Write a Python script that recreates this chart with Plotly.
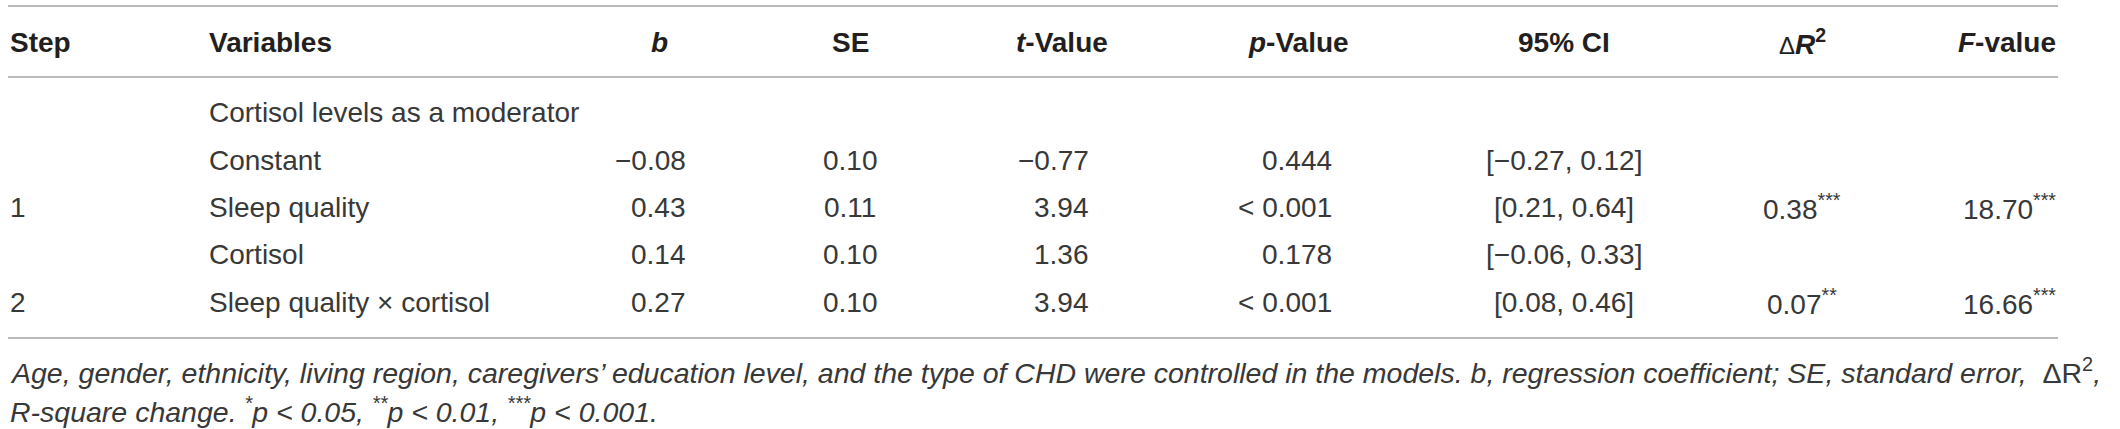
#!/usr/bin/env python3
"""Moderation table: cortisol levels as a moderator of sleep quality."""
import plotly.graph_objects as go

# ---- table data -------------------------------------------------------------
steps = ["", "", "1", "", "2"]
variables = [
    "Cortisol levels as a moderator",
    "Constant",
    "Sleep quality",
    "Cortisol",
    "Sleep quality × cortisol",
]
b_vals = [None, -0.08, 0.43, 0.14, 0.27]
se_vals = [None, 0.10, 0.11, 0.10, 0.10]
t_vals = [None, -0.77, 3.94, 1.36, 3.94]
p_vals = [None, "0.444", "&lt; 0.001", "0.178", "&lt; 0.001"]
ci_low = [None, -0.27, 0.21, -0.06, 0.08]
ci_high = [None, 0.12, 0.64, 0.33, 0.46]
dr2_vals = [None, None, 0.38, None, 0.07]
dr2_stars = ["", "", "***", "", "**"]
f_vals = [None, None, 18.70, None, 16.66]
f_stars = ["", "", "***", "", "***"]

headers = [
    "Step", "Variables", "<i>b</i>", "SE", "<i>t</i>-Value", "<i>p</i>-Value",
    "95% CI", "<span style='font-weight:normal;font-size:24px'>Δ</span><i>R</i><sup>2</sup>",
    "<i>F</i>-value",
]

footnote = [
    "Age, gender, ethnicity, living region, caregivers’ education level, and the type of CHD "
    "were controlled in the models. b, regression coefficient; SE, standard error,  "
    "<span style='font-style:normal'>ΔR<sup>2</sup></span>,",
    "R-square change. <sup>*</sup>p &lt; 0.05, <sup>**</sup>p &lt; 0.01, "
    "<sup>***</sup>p &lt; 0.001.",
]


def num(v):
    return "" if v is None else f"{v:.2f}".replace("-", "−")


# ---- layout ------------------------------------------------------------------
# axes are set up so one data unit is one pixel, y counted from the top
W, H = 2120, 429
INK = "#231f20"
BODY = "#383838"
RULE = "#a3a3a3"
FONT = "Liberation Sans, Arial, Helvetica, sans-serif"

# column anchor x and alignment: (header x, header anchor, cell x, cell anchor)
cols = [
    (8, "left", 8, "left"),
    (207, "left", 207, "left"),
    (659, "center", 688, "right"),
    (850, "center", 850, "center"),
    (1062, "center", 1091, "right"),
    (1298, "center", 1334, "right"),
    (1564, "center", 1564, "center"),
    (1802, "center", 1802, "center"),
    (2058, "right", 2058, "right"),
]
header_y = 42
row_y = [112, 160, 207, 254, 302]
rule_y = [6, 77, 338]
foot_y = [371, 410]

rows = []
for i in range(len(variables)):
    ci = "" if ci_low[i] is None else f"[{num(ci_low[i])}, {num(ci_high[i])}]"
    dr2 = "" if dr2_vals[i] is None else f"{num(dr2_vals[i])}<sup>{dr2_stars[i]}</sup>"
    fv = "" if f_vals[i] is None else f"{num(f_vals[i])}<sup>{f_stars[i]}</sup>"
    rows.append([
        steps[i], variables[i], num(b_vals[i]), num(se_vals[i]), num(t_vals[i]),
        p_vals[i] or "", ci, dr2, fv,
    ])

fig = go.Figure()
fig.add_trace(go.Scatter(x=[0, W], y=[0, H], mode="markers",
                         marker=dict(opacity=0), hoverinfo="skip", showlegend=False))

for y in rule_y:
    fig.add_shape(type="line", x0=8, x1=2058, y0=y, y1=y, xref="x", yref="y",
                  line=dict(color=RULE, width=1.6))

for (hx, ha, _, _), text in zip(cols, headers):
    fig.add_annotation(x=hx, y=header_y, xref="x", yref="y", text=f"<b>{text}</b>",
                       showarrow=False, xanchor=ha, yanchor="middle",
                       font=dict(family=FONT, size=28, color=INK))

for y, cells in zip(row_y, rows):
    for (_, _, cx, ca), text in zip(cols, cells):
        if not text:
            continue
        fig.add_annotation(x=cx, y=y, xref="x", yref="y", text=text,
                           showarrow=False, xanchor=ca, yanchor="middle",
                           font=dict(family=FONT, size=28, color=BODY))

for y, text in zip(foot_y, footnote):
    fig.add_annotation(x=8, y=y, xref="x", yref="y", text=f"<i>{text}</i>",
                       showarrow=False, xanchor="left", yanchor="middle",
                       font=dict(family=FONT, size=28.5, color=BODY))

fig.update_layout(
    width=W, height=H,
    margin=dict(l=0, r=0, t=0, b=0),
    paper_bgcolor="white", plot_bgcolor="white",
    xaxis=dict(range=[0, W], visible=False, fixedrange=True),
    yaxis=dict(range=[H, 0], visible=False, fixedrange=True),
    showlegend=False,
)

# drop the page's default body margin so the figure fills the window exactly
fig.write_html(
    "out.html",
    config={"displayModeBar": False},
    post_script="document.body.style.margin='0';document.body.style.overflow='hidden';",
)
